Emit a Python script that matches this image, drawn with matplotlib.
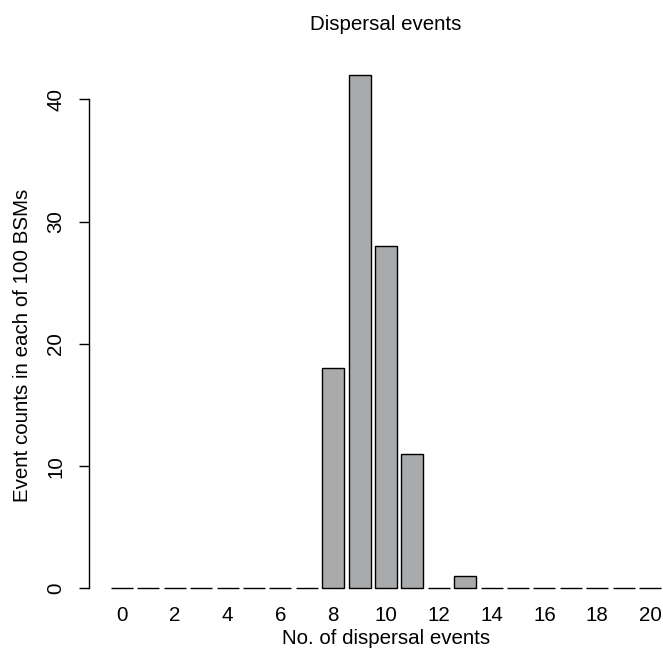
import matplotlib
matplotlib.use("Agg")
import matplotlib.pyplot as plt

# counts of dispersal events (0..20) over 100 BSMs
n_events = list(range(21))
counts = [0, 0, 0, 0, 0, 0, 0, 0, 18, 42, 28, 11, 0, 1, 0, 0, 0, 0, 0, 0, 0]
y_ticks = [0, 10, 20, 30, 40]

plt.rcParams["font.family"] = ["Liberation Sans", "DejaVu Sans"]
FS = 14.8

W, H = 663, 648
fig = plt.figure(figsize=(W / 100, H / 100), dpi=100)

# R-style barplot: width 1, space 0.2
left_px, right_px = 89, 683
bot_px, top_px = 588.3, 54.5
ax = fig.add_axes([left_px / W, 1 - bot_px / H,
                   (right_px - left_px) / W, (bot_px - top_px) / H])

centers = [0.7 + 1.2 * i for i in n_events]
ax.bar(centers, counts, width=1.0, color="#a8aaab", edgecolor="black",
       linewidth=1.0, clip_on=False)

ax.set_xlim(-0.8, 26.2)
ax.set_ylim(0, 43.68)

ax.set_xticks(centers[::2])
ax.set_xticklabels([str(n) for n in n_events[::2]], fontsize=FS)
ax.tick_params(axis="x", length=0, pad=12.5)

ax.set_yticks(y_ticks)
ax.set_yticklabels([str(v) for v in y_ticks], fontsize=FS, rotation=90,
                   va="center")
ax.tick_params(axis="y", length=7, width=1, pad=10)

for s in ["top", "right", "bottom"]:
    ax.spines[s].set_visible(False)
ax.spines["left"].set_bounds(0, 40)
ax.spines["left"].set_linewidth(1)

fig.text(386 / W, 1 - 638 / H, "No. of dispersal events", fontsize=FS,
         ha="center", va="center")
fig.text(23 / W, 1 - 345 / H, "Event counts in each of 100 BSMs", fontsize=FS,
         ha="center", va="center", rotation=90)
fig.text(386 / W, 1 - 25 / H, "Dispersal events", fontsize=FS,
         ha="center", va="center")

fig.savefig("out.png", dpi=100)
